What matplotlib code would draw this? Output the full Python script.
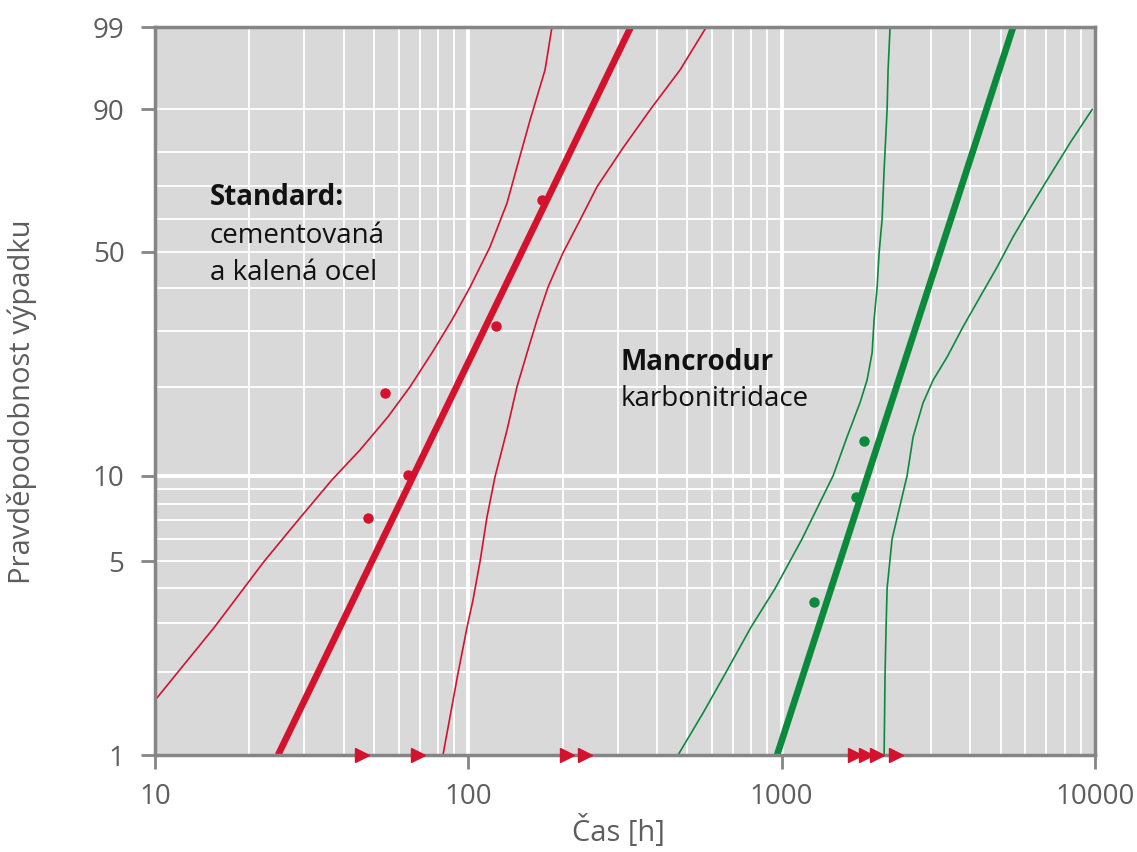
import numpy as np
import matplotlib.pyplot as plt

plt.rcParams['font.family'] = ['Open Sans', 'DejaVu Sans']

# --- data (time in hours, failure probability in %) ---
red_fit_t = [24.7, 330]
red_fit_p = [1, 99]
green_fit_t = [967, 5480]
green_fit_p = [1, 99]

red_pts_t = [47.9, 54.2, 64.2, 122.5, 171.8]
red_pts_p = [7.1, 19.1, 10.1, 31.1, 65.9]
green_pts_t = [1268, 1728, 1833]
green_pts_p = [3.58, 8.44, 13.2]

# suspended units (arrows on the time axis)
censored_t = [45.8, 69.0, 206.5, 235.8, 1714, 1858, 2016, 2318]

# confidence bounds
red_lo_t = [10, 15.5, 22.3, 29.0, 36.7, 45.1, 55.4, 65.2, 76.6, 88.7,
            101.3, 117.3, 132.9, 144.1, 157.4, 175.7, 184.9]
red_lo_p = [1.58, 2.91, 5.0, 7.12, 9.68, 12.27, 15.9, 20.0, 25.7, 32.4,
            40.3, 51.5, 64.9, 76.9, 87.8, 95.96, 99]
red_hi_t = [83.0, 92.7, 99.1, 103.5, 109.0, 114.7, 121.6, 132.9, 143.0, 154.0,
            165.7, 179.6, 200.4, 227.3, 257.5, 311.8, 380.2, 474, 575]
red_hi_p = [1, 1.98, 2.91, 3.64, 5.0, 7.18, 9.9, 14.36, 20.0, 25.7,
            32.4, 40.3, 49.7, 59.65, 69.9, 81.1, 89.9, 95.96, 99]

green_lo_t = [467, 561, 660, 799, 953, 1161, 1459, 1617, 1778, 1873, 1944,
              1972, 2017, 2046, 2092, 2123, 2170, 2186, 2218]
green_lo_p = [1, 1.42, 1.97, 2.91, 4.0, 6.0, 10.0, 13.6, 17.7, 21.0, 25.7,
              32.4, 40.3, 49.7, 59.9, 74.9, 89.9, 95.96, 99]
green_hi_t = [2123, 2138, 2154, 2170, 2251, 2513, 2627, 2827, 3043, 3373,
              3793, 4296, 4870, 5478, 6207, 7031, 8328, 9799]
green_hi_p = [1, 1.97, 2.91, 4.0, 6.0, 10.0, 13.6, 17.7, 21.0, 24.9,
              30.9, 37.8, 45.7, 54.5, 63.4, 71.9, 82.4, 90.0]

y_ticks = [1, 5, 10, 50, 90, 99]
y_grid = [2, 3, 4, 5, 6, 7, 8, 9, 20, 30, 40, 50, 60, 70, 80, 90]
x_ticks = [10, 100, 1000, 10000]

RED = '#d4122e'
GREEN = '#0b8a3c'
GRAY = '#858585'
TXT = '#5e5e5e'


def weib(p):
    p = np.clip(np.asarray(p, dtype=float), 1e-6, 100 - 1e-6)
    return np.log(-np.log(1 - p / 100.0))


def weib_inv(y):
    return 100.0 * (1 - np.exp(-np.exp(np.asarray(y, dtype=float))))


def main():
    fig = plt.figure(figsize=(11.37, 8.52), dpi=100)
    ax = fig.add_axes([155 / 1137, 1 - 755 / 852, 940 / 1137, 728 / 852])
    ax.set_facecolor('#d9d9d9')
    ax.set_xscale('log')
    ax.set_yscale('function', functions=(weib, weib_inv))
    ax.set_xlim(10, 10000)
    ax.set_ylim(1, 99)

    # white grid
    for p in y_grid:
        ax.axhline(p, color='white', lw=1.3, zorder=1)
    ax.axhline(10, color='white', lw=2.8, zorder=1)
    for dec in [10, 100, 1000]:
        for m in range(2, 10):
            ax.axvline(dec * m, color='white', lw=1.3, zorder=1)
    for x in [100, 1000]:
        ax.axvline(x, color='white', lw=2.8, zorder=1)

    # confidence bounds
    ax.plot(red_lo_t, red_lo_p, color=RED, lw=1.2, zorder=3)
    ax.plot(red_hi_t, red_hi_p, color=RED, lw=1.2, zorder=3)
    ax.plot(green_lo_t, green_lo_p, color=GREEN, lw=1.2, zorder=3)
    ax.plot(green_hi_t, green_hi_p, color=GREEN, lw=1.2, zorder=3)

    # fitted Weibull lines
    ax.plot(red_fit_t, red_fit_p, color=RED, lw=4.8, zorder=4, solid_capstyle='butt')
    ax.plot(green_fit_t, green_fit_p, color=GREEN, lw=4.8, zorder=4, solid_capstyle='butt')

    # failures
    ax.plot(red_pts_t, red_pts_p, 'o', color=RED, ms=6.5, zorder=5)
    ax.plot(green_pts_t, green_pts_p, 'o', color=GREEN, ms=6.5, zorder=5)

    # suspensions
    ax.plot(censored_t, [1] * len(censored_t), '>', color=RED, ms=10,
            zorder=6, clip_on=False)

    # texts
    ax.text(0.0585, 0.7555, 'Standard:', transform=ax.transAxes, fontsize=20,
            fontweight='bold', color='#111111', va='baseline')
    ax.text(0.0585, 0.7033, 'cementovaná', transform=ax.transAxes, fontsize=20,
            color='#111111', va='baseline')
    ax.text(0.0585, 0.6525, 'a kalená ocel', transform=ax.transAxes, fontsize=20,
            color='#111111', va='baseline')
    ax.text(0.495, 0.529, 'Mancrodur', transform=ax.transAxes, fontsize=20,
            fontweight='bold', color='#111111', va='baseline')
    ax.text(0.495, 0.479, 'karbonitridace', transform=ax.transAxes, fontsize=20,
            color='#111111', va='baseline')

    # axes styling
    ax.set_yticks(y_ticks)
    ax.set_yticklabels([str(v) for v in y_ticks])
    ax.set_xticks(x_ticks)
    ax.set_xticklabels([str(v) for v in x_ticks])
    ax.yaxis.set_minor_locator(plt.NullLocator())
    ax.xaxis.set_minor_locator(plt.NullLocator())
    ax.tick_params(length=10, width=2, color=GRAY, labelcolor=TXT, labelsize=20)
    ax.tick_params(axis='y', pad=12)
    ax.tick_params(axis='x', pad=10)
    for s in ax.spines.values():
        s.set_color(GRAY)
        s.set_linewidth(2.5)
        s.set_zorder(5)

    ax.set_xlabel('Čas [h]', fontsize=21, color=TXT)
    ax.xaxis.set_label_coords(0.4926, -0.118)
    ax.xaxis.label.set_va('baseline')
    ax.set_ylabel('Pravděpodobnost výpadku', fontsize=21, color=TXT)
    ax.yaxis.set_label_coords(-0.1255, 0.486)

    fig.savefig('out.png', dpi=100)


if __name__ == "__main__":
    main()
